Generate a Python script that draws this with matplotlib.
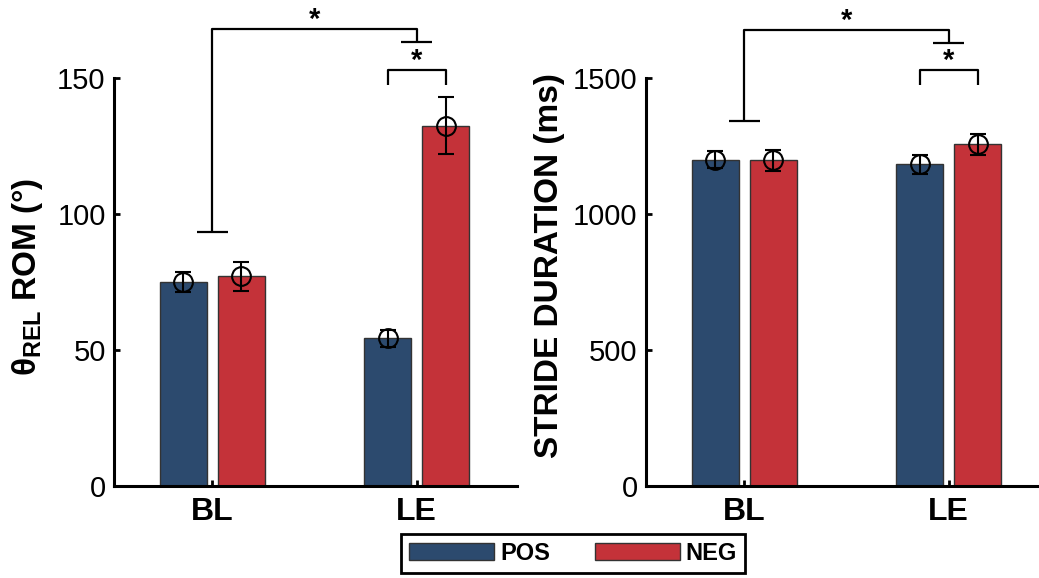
import matplotlib.pyplot as plt
import numpy as np

plt.rcParams['font.family'] = 'Liberation Sans'
plt.rcParams['mathtext.fontset'] = 'custom'
plt.rcParams['mathtext.rm'] = 'Liberation Sans'
plt.rcParams['mathtext.bf'] = 'Liberation Sans:bold'

# data
conditions = ['BL', 'LE']
groups = ['POS', 'NEG']

rom_mean = {'POS': [75.1, 54.3], 'NEG': [77.1, 132.5]}
rom_err = {'POS': [3.7, 3.1], 'NEG': [5.4, 10.5]}

stride_mean = {'POS': [1200, 1183], 'NEG': [1197, 1256]}
stride_err = {'POS': [31, 35], 'NEG': [39, 38]}

colors = {'POS': '#2C4A6E', 'NEG': '#C43239'}

# significance brackets: (top y, left leg end, right leg end) and (pair y, leg end)
rom_brackets = [167.9, 93.4, 163.2, 152.8, 147.4]
stride_brackets = [1675, 1342, 1630, 1528, 1474]

W, H = 1039, 578
fig = plt.figure(figsize=(W / 100, H / 100), dpi=100)

x = np.array([1.0, 2.0])
width = 0.23
offset = 0.1415
cap_half = 0.0756


def draw_panel(ax, means, errs, ytop, ticks, ylabel, br):
    handles = []
    for g, sign in zip(groups, [-1, 1]):
        xs = x + sign * offset
        b = ax.bar(xs, means[g], width, color=colors[g], edgecolor='#333333',
                   linewidth=1.0, zorder=2, label=g)
        handles.append(b)
        ax.errorbar(xs, means[g], yerr=errs[g], fmt='o', mfc='none', mec='black',
                    ms=13.5, mew=1.5, ecolor='black', elinewidth=1.5,
                    capsize=6, capthick=1.5, zorder=3)
    ax.set_xlim(0.52, 2.49)
    ax.set_ylim(0, ytop)
    ax.set_yticks(ticks)
    ax.set_xticks(x)
    ax.set_xticklabels(conditions, fontsize=23, fontweight='bold')
    for s in ['top', 'right']:
        ax.spines[s].set_visible(False)
    ax.spines['left'].set_bounds(ticks[0], ticks[-1])
    for s in ['left', 'bottom']:
        ax.spines[s].set_linewidth(2.2)
    ax.tick_params(axis='y', direction='in', length=4, width=2, labelsize=21, pad=6)
    ax.tick_params(axis='x', direction='in', length=4, width=2, pad=8)
    ax.set_ylabel(ylabel, fontsize=24, fontweight='bold')

    top, l_end, r_end, pair_y, pair_end = br
    kw = dict(color='black', lw=1.6, clip_on=False, solid_capstyle='butt')
    ax.plot([x[0], x[0], x[1], x[1]], [l_end, top, top, r_end], **kw)
    ax.plot([x[0] - cap_half, x[0] + cap_half], [l_end, l_end], **kw)
    ax.plot([x[1] - cap_half, x[1] + cap_half], [r_end, r_end], **kw)
    ax.plot([x[1] - offset, x[1] - offset, x[1] + offset, x[1] + offset],
            [pair_end, pair_y, pair_y, pair_end], **kw)
    ax.annotate('*', (x.mean(), top), xytext=(0, 1), textcoords='offset points',
                ha='center', va='baseline', fontsize=21, fontweight='bold')
    ax.annotate('*', (x[1], pair_y), xytext=(0, 1), textcoords='offset points',
                ha='center', va='baseline', fontsize=21, fontweight='bold')
    return handles


ax1 = fig.add_axes([114 / W, 92 / H, 403 / W, 486 / H])
handles = draw_panel(ax1, rom_mean, rom_err, 486 / 2.72, [0, 50, 100, 150],
                     r'$\mathbf{\theta}_{\mathbf{REL}}$ ROM (°)', rom_brackets)
ax1.yaxis.set_label_coords(-0.17, 0.43)

ax2 = fig.add_axes([646 / W, 92 / H, 403 / W, 486 / H])
draw_panel(ax2, stride_mean, stride_err, 486 / 0.272, [0, 500, 1000, 1500],
           'STRIDE DURATION (ms)', stride_brackets)
ax2.yaxis.set_label_coords(-0.2, 0.453)

leg = fig.legend(handles, groups, loc='lower center', bbox_to_anchor=(573 / W, -0.012),
                 ncol=2, fancybox=False, edgecolor='black', framealpha=1,
                 handlelength=3.6, handleheight=0.75, handletextpad=0.25,
                 columnspacing=1.9, prop={'weight': 'bold', 'size': 17}, borderpad=0.35)
leg.get_frame().set_linewidth(2)

fig.savefig('out.png', dpi=100)
